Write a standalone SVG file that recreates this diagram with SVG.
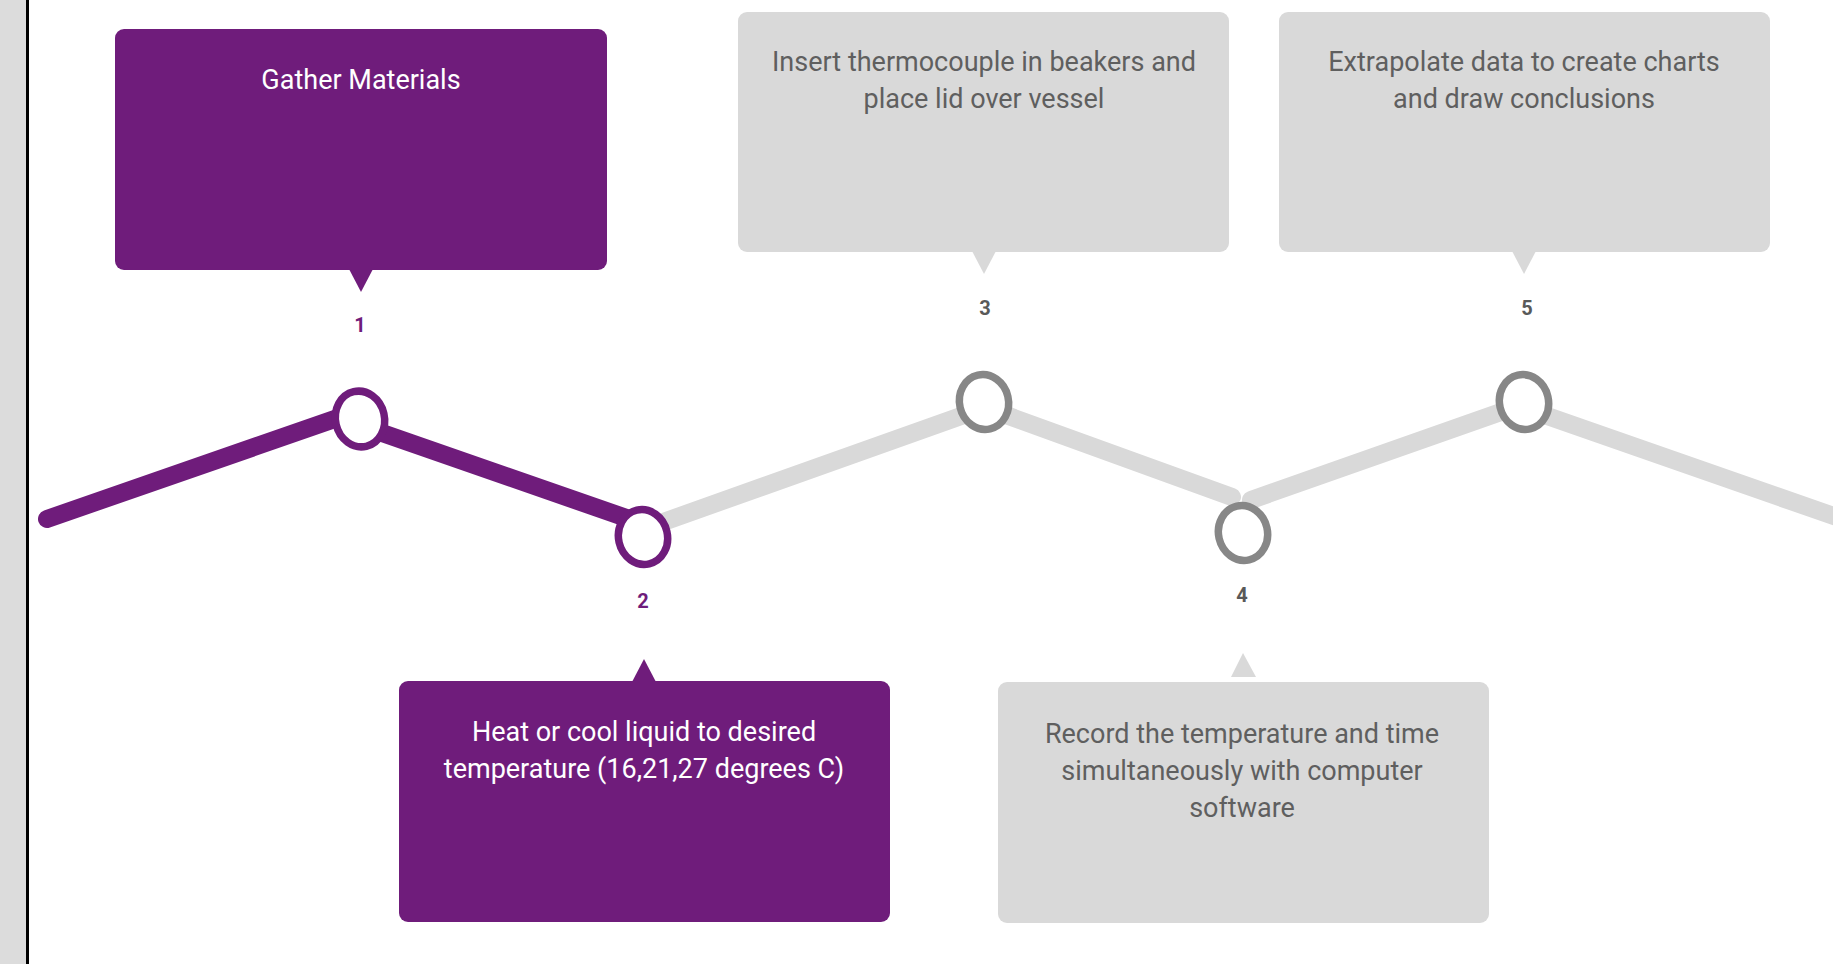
<svg xmlns="http://www.w3.org/2000/svg" width="1833" height="964" viewBox="0 0 1833 964">
<style>
.box-p{fill:#6f1c7b}
.box-g{fill:#d9d9d9}
.t{font-family:Roboto,"Liberation Sans",sans-serif;font-size:27px;text-anchor:middle}
.tp{fill:#ffffff}
.tg{fill:#5f5f5f}
.num{font-family:Roboto,"Liberation Sans",sans-serif;font-size:20px;font-weight:bold;text-anchor:middle}
.np{fill:#6f1c7b}
.ng{fill:#595959}
.lp{stroke:#6f1c7b;stroke-width:18;stroke-linecap:round;fill:none}
.lg{stroke:#d9d9d9;stroke-width:18;stroke-linecap:round;fill:none}
.cp{fill:#ffffff;stroke:#6f1c7b;stroke-width:7.5}
.cg{fill:#ffffff;stroke:#878787;stroke-width:7.5}
</style>
<rect x="0" y="0" width="1833" height="964" fill="#ffffff"/>
<rect x="0" y="0" width="26" height="964" fill="#dcdcdc"/>
<line x1="27.5" y1="0" x2="27.5" y2="964" stroke="#000000" stroke-width="3"/>
<g id="connectors">
<line class="lp" x1="47" y1="519" x2="352" y2="413"/>
<line class="lp" x1="362" y1="426" x2="638" y2="522"/>
<line class="lg" x1="652" y1="526" x2="978" y2="410"/>
<line class="lg" x1="992" y1="410" x2="1232" y2="497"/>
<line class="lg" x1="1251" y1="500" x2="1518" y2="406"/>
<line class="lg" x1="1530" y1="410" x2="1845" y2="520"/>
</g>
<g id="node1">
<rect class="box-p" x="115" y="29" width="492" height="241" rx="9"/>
<polygon class="box-p" points="349,269 373,269 361,292"/>
<text class="t tp" x="361" y="89">Gather Materials</text>
<text class="num np" x="360" y="332">1</text>
<ellipse class="cp" cx="360" cy="419" rx="24.5" ry="28" transform="rotate(-13 360 419)"/>
</g>
<g id="node2">
<rect class="box-p" x="399" y="681" width="491" height="241" rx="9"/>
<polygon class="box-p" points="632,682 656,682 644,659"/>
<text class="t tp" x="644" y="741">Heat or cool liquid to desired</text>
<text class="t tp" x="644" y="778">temperature (16,21,27 degrees C)</text>
<text class="num np" x="643" y="608">2</text>
<ellipse class="cp" cx="643" cy="537" rx="24.5" ry="27.5" transform="rotate(-13 643 537)"/>
</g>
<g id="node3">
<rect class="box-g" x="738" y="12" width="491" height="240" rx="9"/>
<polygon class="box-g" points="972,251 996,251 984,274"/>
<text class="t tg" x="984" y="71">Insert thermocouple in beakers and</text>
<text class="t tg" x="984" y="108">place lid over vessel</text>
<text class="num ng" x="985" y="315">3</text>
<ellipse class="cg" cx="984" cy="402" rx="24.5" ry="27.5" transform="rotate(-13 984 402)"/>
</g>
<g id="node4">
<rect class="box-g" x="998" y="682" width="491" height="241" rx="9"/>
<polygon class="box-g" points="1231,677 1256,677 1243,653"/>
<text class="t tg" x="1242" y="743">Record the temperature and time</text>
<text class="t tg" x="1242" y="780">simultaneously with computer</text>
<text class="t tg" x="1242" y="817">software</text>
<text class="num ng" x="1242" y="602">4</text>
<ellipse class="cg" cx="1243" cy="533" rx="24.5" ry="27.5" transform="rotate(-13 1243 533)"/>
</g>
<g id="node5">
<rect class="box-g" x="1279" y="12" width="491" height="240" rx="9"/>
<polygon class="box-g" points="1512,251 1536,251 1524,274"/>
<text class="t tg" x="1524" y="71">Extrapolate data to create charts</text>
<text class="t tg" x="1524" y="108">and draw conclusions</text>
<text class="num ng" x="1527" y="315">5</text>
<ellipse class="cg" cx="1524" cy="402" rx="24.5" ry="27.5" transform="rotate(-13 1524 402)"/>
</g>
</svg>
